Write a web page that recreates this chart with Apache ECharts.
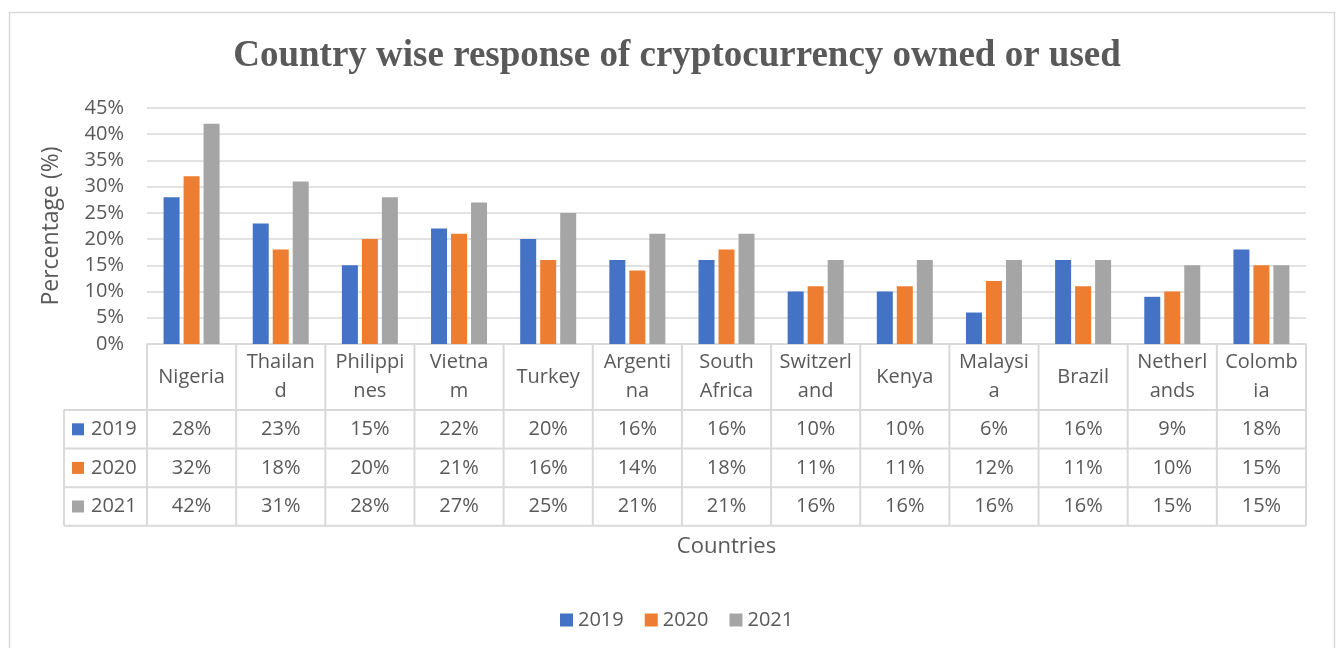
<!DOCTYPE html>
<html>
<head>
<meta charset="utf-8">
<script src="https://cdn.jsdelivr.net/npm/echarts@6/dist/echarts.min.js"></script>
<style>
  html, body { margin: 0; padding: 0; background: #fff; }
  #chart { width: 1338px; height: 648px; }
</style>
</head>
<body>
<div id="chart"></div>
<script>
// Survey share of respondents who own or use cryptocurrency, by country and year (%)
const categories = ['Nigeria', 'Thailand', 'Philippines', 'Vietnam', 'Turkey', 'Argentina', 'South Africa',
  'Switzerland', 'Kenya', 'Malaysia', 'Brazil', 'Netherlands', 'Colombia'];
// Category names as they wrap inside the narrow table header cells
const headerLabels = ['Nigeria', 'Thailan\nd', 'Philippi\nnes', 'Vietna\nm', 'Turkey', 'Argenti\nna', 'South\nAfrica',
  'Switzerl\nand', 'Kenya', 'Malaysi\na', 'Brazil', 'Netherl\nands', 'Colomb\nia'];
const years = ['2019', '2020', '2021'];
const v2019 = [28, 23, 15, 22, 20, 16, 16, 10, 10, 6, 16, 9, 18];
const v2020 = [32, 18, 20, 21, 16, 14, 18, 11, 11, 12, 11, 10, 15];
const v2021 = [42, 31, 28, 27, 25, 21, 21, 16, 16, 16, 16, 15, 15];
const yMin = 0, yMax = 45, yStep = 5;

const seriesValues = [v2019, v2020, v2021];
const colors = ['#4472C4', '#ED7D31', '#A5A5A5'];
const textColor = '#595959';
const lineColor = '#D9D9D9';
const font = '"Open Sans", "Noto Sans", sans-serif';

// Plot / data-table geometry
const W = 1338, H = 648;
const plotLeft = 147, plotRight = 1306, plotTop = 108, plotBottom = 344;
const headerH = 66, rowH = 38.6, tableLeft = 64;
const rowCenters = [0, 1, 2].map(k => headerH + rowH * k + rowH / 2);

const chart = echarts.init(document.getElementById('chart'), null, { renderer: 'canvas' });

// One hidden category axis per table row prints that row's values under each column
const rowAxes = years.map((y, k) => ({
  type: 'category',
  data: categories,
  gridIndex: 0,
  position: 'bottom',
  axisLine: { show: false },
  axisTick: { show: false },
  splitLine: { show: false },
  axisLabel: {
    interval: 0,
    margin: rowCenters[k],
    verticalAlign: 'middle',
    fontFamily: font,
    fontSize: 20,
    color: textColor,
    formatter: (v, i) => seriesValues[k][i] + '%'
  }
}));

const option = {
  animation: false,
  backgroundColor: '#fff',
  title: {
    text: 'Country wise response of cryptocurrency owned or used',
    left: 672,
    textAlign: 'center',
    top: 33,
    textStyle: {
      fontFamily: '"Liberation Serif", "Times New Roman", serif',
      fontWeight: 'bold',
      fontSize: 37,
      color: textColor
    }
  },
  legend: {
    data: years,
    left: 555,
    top: 605,
    icon: 'rect',
    itemWidth: 13,
    itemHeight: 13,
    itemGap: 21,
    textStyle: { fontFamily: font, fontSize: 20, color: textColor }
  },
  grid: {
    left: plotLeft,
    right: W - plotRight,
    top: plotTop,
    bottom: H - plotBottom,
    containLabel: false
  },
  xAxis: [{
    type: 'category',
    data: categories,
    position: 'bottom',
    name: 'Countries',
    nameLocation: 'middle',
    nameGap: 203,
    nameTextStyle: { fontFamily: font, fontSize: 22, color: textColor, verticalAlign: 'middle' },
    axisLine: { show: true, onZero: false, lineStyle: { color: lineColor, width: 1.5 } },
    axisTick: { show: false },
    axisLabel: {
      interval: 0,
      margin: headerH / 2,
      verticalAlign: 'middle',
      lineHeight: 29,
      fontFamily: font,
      fontSize: 20,
      color: textColor,
      formatter: (v, i) => headerLabels[i]
    }
  }].concat(rowAxes),
  yAxis: {
    type: 'value',
    min: yMin,
    max: yMax,
    interval: yStep,
    name: 'Percentage (%)',
    nameLocation: 'middle',
    nameGap: 84,
    nameTextStyle: { fontFamily: font, fontSize: 23, color: textColor },
    axisLine: { show: false },
    axisTick: { show: false },
    splitLine: { lineStyle: { color: lineColor, width: 1.5 } },
    axisLabel: {
      margin: 23,
      fontFamily: font,
      fontSize: 20,
      color: textColor,
      formatter: '{value}%'
    }
  },
  series: years.map((y, k) => ({
    name: y,
    type: 'bar',
    xAxisIndex: 0,
    data: seriesValues[k],
    barWidth: 16,
    barGap: '25%',
    itemStyle: { color: colors[k] }
  }))
};

chart.setOption(option);

// Data-table rules and the row keys, placed from the category axis positions
function buildTable() {
  const centers = categories.map((c, i) => chart.convertToPixel({ xAxisIndex: 0 }, i));
  const band = centers[1] - centers[0];
  const bounds = centers.map(c => c - band / 2).concat([centers[centers.length - 1] + band / 2]);
  const yHeaderBottom = plotBottom + headerH;
  const yTableBottom = yHeaderBottom + rowH * 3;
  const stroke = { stroke: lineColor, lineWidth: 2 };
  const els = [];

  // outer chart frame
  els.push({
    type: 'rect', silent: true,
    shape: { x: 9.5, y: 12.5, width: 1325, height: 700 },
    style: { fill: 'none', stroke: lineColor, lineWidth: 1.5 }
  });

  bounds.forEach(x => {
    els.push({ type: 'line', silent: true, shape: { x1: x, y1: plotBottom, x2: x, y2: yTableBottom }, style: stroke });
  });
  els.push({ type: 'line', silent: true, shape: { x1: tableLeft, y1: yHeaderBottom, x2: tableLeft, y2: yTableBottom }, style: stroke });
  for (let k = 0; k <= 3; k++) {
    const y = yHeaderBottom + rowH * k;
    els.push({ type: 'line', silent: true, shape: { x1: tableLeft, y1: y, x2: bounds[bounds.length - 1], y2: y }, style: stroke });
  }

  years.forEach((yr, k) => {
    const cy = plotBottom + rowCenters[k];
    els.push({ type: 'rect', silent: true, shape: { x: 72, y: cy - 6, width: 12, height: 12 }, style: { fill: colors[k] } });
    els.push({
      type: 'text', silent: true, x: 91, y: cy,
      style: { text: yr, fill: textColor, font: '20px ' + font, textAlign: 'left', textVerticalAlign: 'middle' }
    });
  });

  chart.setOption({ graphic: { elements: els } });
}
buildTable();
</script>
</body>
</html>
